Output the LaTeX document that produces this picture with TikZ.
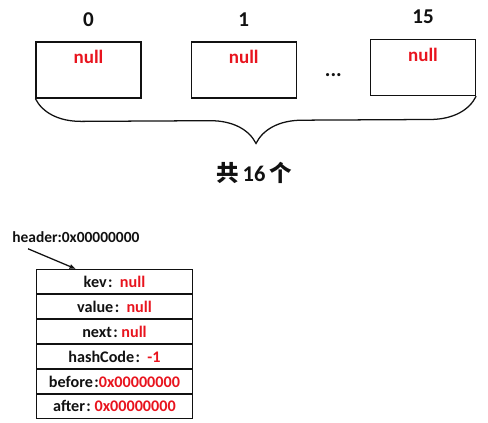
\documentclass[tikz,border=0pt]{standalone}
\usepackage{fontspec}
\setmainfont{Carlito}
\newfontfamily\cjk{Noto Sans CJK SC}
\usepackage{tikz}
\usetikzlibrary{positioning, arrows.meta, calc, decorations.pathreplacing}
\definecolor{ink}{HTML}{111111}
\definecolor{nullred}{HTML}{E8141E}
\tikzset{
  slot/.style     = {rectangle, draw=ink, line width=0.9pt, minimum width=2.625cm,
                     minimum height=1.4cm, inner sep=0pt},
  idx/.style      = {font=\fontsize{15}{17}\selectfont\bfseries, text=ink},
  nulltxt/.style  = {font=\fontsize{13.5}{15}\selectfont\bfseries, text=nullred},
  field/.style    = {rectangle, draw=ink, line width=0.7pt, minimum width=3.9cm,
                     minimum height=0.6cm, inner sep=0pt, align=center,
                     font=\fontsize{11.5}{13}\selectfont\bfseries, text=ink},
  ar/.style       = {-{Latex[length=1.6mm,width=1.3mm]}, line width=0.9pt, draw=ink},
}
\newcommand{\val}[1]{\textcolor{nullred}{#1}}

\begin{document}
\begin{tikzpicture}[node distance=1.225cm]
  \useasboundingbox (0,0) rectangle (12.2,-10.55);

  % bucket array
  \node[slot] (b0) at (2.2125,-1.75) {};
  \node[slot, right=of b0] (b1) {};
  \node[slot, right=1.825cm of b1, yshift=0.06cm] (b15) {};
  \foreach \b/\i in {b0/0, b1/1, b15/15} {
    \node[idx] (i\b) at ([yshift=0.55cm]\b.north) {\i};
    \node[nulltxt] (n\b) at ([yshift=-0.4cm]\b.north) {null};
  }
  \node[idx] (dots) at ($(b1.east)!0.5!(b15.west)+(0,-0.15)$) {...};

  \draw[ink, line width=0.9pt, decorate,
        decoration={brace, mirror, amplitude=1.15cm}]
    (b0.south west) -- (b15.south east);
  \node[font=\fontsize{16}{18}\selectfont\bfseries, text=ink] (total)
    at (6.35,-4.32) {{\cjk\bfseries 共}\,16\,{\cjk\bfseries 个}};

  % header entry
  \node[font=\fontsize{11}{13}\selectfont\bfseries, text=ink, anchor=west, inner sep=0pt]
    (header) at (0.3,-5.925) {header:0x00000000};
  \node[field, anchor=north west] (r1) at (0.9,-6.725) {kev\kern1pt:\ \ \val{null}};
  \node[field, below=0cm of r1] (r2) {value\kern1pt:\ \ \val{null}};
  \node[field, below=0cm of r2] (r3) {next\kern1pt:\ \val{null}};
  \node[field, below=0cm of r3] (r4) {hashCode\kern1pt:\ \ \val{-1}};
  \node[field, below=0cm of r4] (r5) {before\kern1pt:\val{0x00000000}};
  \node[field, below=0cm of r5] (r6) {after\kern1pt:\ \val{0x00000000}};
  \draw[ar] ([xshift=0.4cm, yshift=-0.15cm]header.south west) -- ([xshift=1.0cm]r1.north west);

\end{tikzpicture}
\end{document}
